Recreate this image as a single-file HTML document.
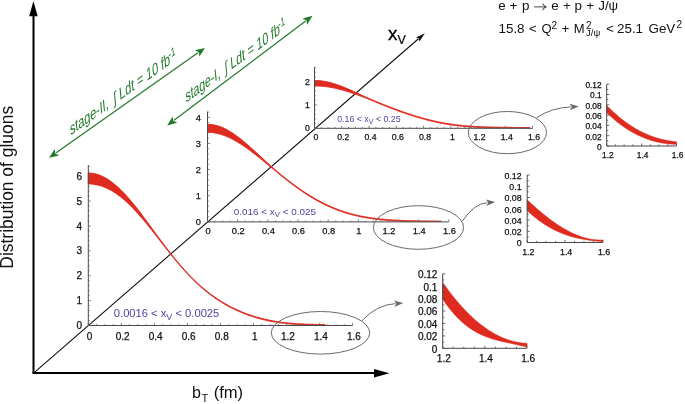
<!DOCTYPE html>
<html><head><meta charset="utf-8"><style>
html,body{margin:0;padding:0;background:#fff;}
svg{display:block;will-change:transform;}
text{font-family:"Liberation Sans", sans-serif;}
</style></head><body>
<svg width="685" height="404" viewBox="0 0 685 404" fill="#111">
<rect width="685" height="404" fill="#fff"/>
<line x1="33.5" y1="373" x2="33.5" y2="14" stroke="#000" stroke-width="2"/>
<polygon points="33.4,1 29.2,16.3 37.7,16.3" fill="#000"/>
<line x1="32.5" y1="373.1" x2="376" y2="373.1" stroke="#000" stroke-width="2"/>
<polygon points="389.5,373.3 374,369.1 374,377.5" fill="#000"/>
<line x1="33.6" y1="373.1" x2="418.48" y2="38.77" stroke="#111" stroke-width="1.1"/>
<polygon points="424.9,33.2 419.43,41.39 418.86,38.45 416.02,37.47" fill="#111"/>
<path d="M314.50,80.47 L315.41,80.48 L316.32,80.50 L317.23,80.53 L318.13,80.58 L319.04,80.65 L319.95,80.73 L320.86,80.82 L321.77,80.93 L322.68,81.05 L323.59,81.19 L324.50,81.34 L325.40,81.50 L326.31,81.68 L327.22,81.87 L328.13,82.07 L329.04,82.28 L329.95,82.50 L330.86,82.74 L331.76,82.99 L332.67,83.25 L333.58,83.52 L334.49,83.80 L335.40,84.09 L336.31,84.39 L337.22,84.70 L338.13,85.02 L339.03,85.35 L339.94,85.68 L340.85,86.02 L341.76,86.37 L342.67,86.73 L343.58,87.10 L344.49,87.47 L345.39,87.84 L346.30,88.22 L347.21,88.61 L348.12,89.00 L349.03,89.39 L349.94,89.79 L350.85,90.20 L351.76,90.60 L352.66,91.01 L353.57,91.42 L354.48,91.84 L355.39,92.25 L356.30,92.67 L357.21,93.09 L358.12,93.51 L359.02,93.93 L359.93,94.35 L360.84,94.77 L361.75,95.19 L362.66,95.61 L363.57,96.03 L364.48,96.45 L365.39,96.87 L366.29,97.29 L367.20,97.71 L368.11,98.09 L369.02,98.47 L369.93,98.86 L370.84,99.24 L371.75,99.62 L372.65,100.00 L373.56,100.38 L374.47,100.76 L375.38,101.14 L376.29,101.51 L377.20,101.89 L378.11,102.27 L379.02,102.64 L379.92,103.01 L380.83,103.38 L381.74,103.75 L382.65,104.12 L383.56,104.48 L384.47,104.85 L385.38,105.21 L386.28,105.57 L387.19,105.92 L388.10,106.28 L389.01,106.63 L389.92,106.99 L390.83,107.34 L391.74,107.68 L392.65,108.03 L393.55,108.37 L394.46,108.71 L395.37,109.05 L396.28,109.39 L397.19,109.72 L398.10,110.06 L399.01,110.39 L399.91,110.71 L400.82,111.04 L401.73,111.36 L402.64,111.68 L403.55,112.00 L404.46,112.31 L405.37,112.62 L406.28,112.93 L407.18,113.24 L408.09,113.54 L409.00,113.85 L409.91,114.14 L410.82,114.44 L411.73,114.73 L412.64,115.02 L413.54,115.31 L414.45,115.59 L415.36,115.88 L416.27,116.15 L417.18,116.43 L418.09,116.70 L419.00,116.97 L419.91,117.23 L420.81,117.50 L421.72,117.76 L422.63,118.01 L423.54,118.26 L424.45,118.51 L425.36,118.76 L426.27,119.00 L427.17,119.24 L428.08,119.47 L428.99,119.70 L429.90,119.93 L430.81,120.15 L431.72,120.37 L432.63,120.58 L433.54,120.79 L434.44,121.00 L435.35,121.20 L436.26,121.40 L437.17,121.60 L438.08,121.79 L438.99,121.98 L439.90,122.16 L440.80,122.34 L441.71,122.52 L442.62,122.69 L443.53,122.85 L444.44,123.02 L445.35,123.18 L446.26,123.33 L447.17,123.48 L448.07,123.63 L448.98,123.77 L449.89,123.91 L450.80,124.05 L451.71,124.18 L452.62,124.30 L453.53,124.43 L454.43,124.55 L455.34,124.66 L456.25,124.78 L457.16,124.89 L458.07,124.99 L458.98,125.09 L459.89,125.19 L460.80,125.29 L461.70,125.38 L462.61,125.47 L463.52,125.56 L464.43,125.64 L465.34,125.72 L466.25,125.80 L467.16,125.87 L468.06,125.94 L468.97,126.01 L469.88,126.08 L470.79,126.14 L471.70,126.20 L472.61,126.26 L473.52,126.31 L474.43,126.37 L475.33,126.42 L476.24,126.47 L477.15,126.52 L478.06,126.56 L478.97,126.61 L479.88,126.65 L480.79,126.69 L481.69,126.73 L482.60,126.76 L483.51,126.80 L484.42,126.83 L485.33,126.86 L486.24,126.89 L487.15,126.92 L488.06,126.95 L488.96,126.98 L489.87,127.00 L490.78,127.03 L491.69,127.05 L492.60,127.07 L493.51,127.10 L494.42,127.12 L495.32,127.14 L496.23,127.15 L497.14,127.17 L498.05,127.19 L498.96,127.21 L499.87,127.22 L500.78,127.24 L501.69,127.25 L502.59,127.27 L503.50,127.28 L504.41,127.29 L505.32,127.31 L506.23,127.32 L507.14,127.33 L508.05,127.35 L508.95,127.36 L509.86,127.37 L510.77,127.38 L511.68,127.40 L512.59,127.41 L513.50,127.42 L514.41,127.44 L515.32,127.45 L516.22,127.46 L517.13,127.48 L518.04,127.49 L518.95,127.51 L519.86,127.52 L520.77,127.54 L521.68,127.56 L522.58,127.57 L523.49,127.59 L524.40,127.61 L525.31,127.63 L526.22,127.65 L527.13,127.66 L528.04,127.68 L528.95,127.70 L529.85,127.72 L529.85,127.70 L528.95,127.70 L528.04,127.70 L527.13,127.70 L526.22,127.70 L525.31,127.70 L524.40,127.70 L523.49,127.70 L522.58,127.70 L521.68,127.70 L520.77,127.70 L519.86,127.70 L518.95,127.70 L518.04,127.70 L517.13,127.70 L516.22,127.70 L515.32,127.70 L514.41,127.70 L513.50,127.70 L512.59,127.70 L511.68,127.70 L510.77,127.70 L509.86,127.70 L508.95,127.70 L508.05,127.70 L507.14,127.70 L506.23,127.70 L505.32,127.70 L504.41,127.70 L503.50,127.70 L502.59,127.70 L501.69,127.70 L500.78,127.70 L499.87,127.70 L498.96,127.70 L498.05,127.70 L497.14,127.70 L496.23,127.70 L495.32,127.70 L494.42,127.70 L493.51,127.70 L492.60,127.70 L491.69,127.70 L490.78,127.70 L489.87,127.70 L488.96,127.70 L488.06,127.70 L487.15,127.70 L486.24,127.70 L485.33,127.70 L484.42,127.67 L483.51,127.64 L482.60,127.60 L481.69,127.57 L480.79,127.53 L479.88,127.49 L478.97,127.45 L478.06,127.40 L477.15,127.36 L476.24,127.31 L475.33,127.26 L474.43,127.21 L473.52,127.15 L472.61,127.10 L471.70,127.04 L470.79,126.98 L469.88,126.92 L468.97,126.85 L468.06,126.78 L467.16,126.71 L466.25,126.64 L465.34,126.56 L464.43,126.48 L463.52,126.40 L462.61,126.31 L461.70,126.22 L460.80,126.13 L459.89,126.03 L458.98,125.93 L458.07,125.83 L457.16,125.73 L456.25,125.62 L455.34,125.50 L454.43,125.39 L453.53,125.27 L452.62,125.14 L451.71,125.02 L450.80,124.89 L449.89,124.75 L448.98,124.61 L448.07,124.47 L447.17,124.32 L446.26,124.17 L445.35,124.02 L444.44,123.86 L443.53,123.69 L442.62,123.53 L441.71,123.36 L440.80,123.18 L439.90,123.00 L438.99,122.82 L438.08,122.63 L437.17,122.44 L436.26,122.24 L435.35,122.04 L434.44,121.84 L433.54,121.63 L432.63,121.42 L431.72,121.21 L430.81,120.99 L429.90,120.77 L428.99,120.54 L428.08,120.31 L427.17,120.08 L426.27,119.84 L425.36,119.60 L424.45,119.35 L423.54,119.10 L422.63,118.85 L421.72,118.60 L420.81,118.34 L419.91,118.07 L419.00,117.81 L418.09,117.54 L417.18,117.27 L416.27,116.99 L415.36,116.72 L414.45,116.43 L413.54,116.15 L412.64,115.86 L411.73,115.57 L410.82,115.28 L409.91,114.98 L409.00,114.69 L408.09,114.38 L407.18,114.08 L406.28,113.77 L405.37,113.46 L404.46,113.15 L403.55,112.84 L402.64,112.52 L401.73,112.20 L400.82,111.88 L399.91,111.55 L399.01,111.23 L398.10,110.90 L397.19,110.56 L396.28,110.23 L395.37,109.89 L394.46,109.55 L393.55,109.21 L392.65,108.87 L391.74,108.52 L390.83,108.18 L389.92,107.83 L389.01,107.47 L388.10,107.12 L387.19,106.76 L386.28,106.41 L385.38,106.05 L384.47,105.69 L383.56,105.32 L382.65,104.96 L381.74,104.59 L380.83,104.22 L379.92,103.85 L379.02,103.48 L378.11,103.11 L377.20,102.73 L376.29,102.35 L375.38,101.98 L374.47,101.60 L373.56,101.22 L372.65,100.84 L371.75,100.46 L370.84,100.08 L369.93,99.70 L369.02,99.31 L368.11,98.93 L367.20,98.55 L366.29,98.20 L365.39,97.85 L364.48,97.50 L363.57,97.16 L362.66,96.82 L361.75,96.48 L360.84,96.14 L359.93,95.80 L359.02,95.47 L358.12,95.14 L357.21,94.81 L356.30,94.49 L355.39,94.17 L354.48,93.85 L353.57,93.54 L352.66,93.23 L351.76,92.92 L350.85,92.62 L349.94,92.32 L349.03,92.03 L348.12,91.74 L347.21,91.46 L346.30,91.18 L345.39,90.91 L344.49,90.64 L343.58,90.38 L342.67,90.12 L341.76,89.87 L340.85,89.63 L339.94,89.39 L339.03,89.16 L338.13,88.94 L337.22,88.72 L336.31,88.51 L335.40,88.30 L334.49,88.11 L333.58,87.92 L332.67,87.74 L331.76,87.57 L330.86,87.40 L329.95,87.25 L329.04,87.10 L328.13,86.96 L327.22,86.83 L326.31,86.70 L325.40,86.59 L324.50,86.48 L323.59,86.39 L322.68,86.30 L321.77,86.22 L320.86,86.15 L319.95,86.09 L319.04,86.04 L318.13,86.00 L317.23,85.96 L316.32,85.94 L315.41,85.93 L314.50,85.92Z" fill="#df2a1f" stroke="#df2a1f" stroke-width="1.0" stroke-linejoin="round"/>
<path d="M314.50,66.89 V128.30 H532.58" fill="none" stroke="#484848" stroke-width="1.0"/>
<path d="M314.50,128.30h2.6M314.50,123.63h1.4M314.50,118.96h1.4M314.50,114.29h1.4M314.50,109.62h1.4M314.50,104.95h2.6M314.50,100.28h1.4M314.50,95.61h1.4M314.50,90.94h1.4M314.50,86.27h1.4M314.50,81.60h2.6M314.50,76.93h1.4M314.50,72.26h1.4M314.50,67.59h1.4M314.50,128.30v-2.6M321.31,128.30v-1.4M328.13,128.30v-1.4M334.94,128.30v-1.4M341.76,128.30v-2.6M348.57,128.30v-1.4M355.39,128.30v-1.4M362.20,128.30v-1.4M369.02,128.30v-2.6M375.84,128.30v-1.4M382.65,128.30v-1.4M389.47,128.30v-1.4M396.28,128.30v-2.6M403.10,128.30v-1.4M409.91,128.30v-1.4M416.73,128.30v-1.4M423.54,128.30v-2.6M430.36,128.30v-1.4M437.17,128.30v-1.4M443.99,128.30v-1.4M450.80,128.30v-2.6M457.62,128.30v-1.4M464.43,128.30v-1.4M471.25,128.30v-1.4M478.06,128.30v-2.6M484.88,128.30v-1.4M491.69,128.30v-1.4M498.50,128.30v-1.4M505.32,128.30v-2.6M512.13,128.30v-1.4M518.95,128.30v-1.4M525.76,128.30v-1.4M532.58,128.30v-2.6" stroke="#666" stroke-width="0.8" fill="none"/>
<g font-size="8.7" stroke="#111" stroke-width="0.25"><text x="309.90" y="131.43" text-anchor="end">0</text><text x="309.90" y="108.08" text-anchor="end">1</text><text x="309.90" y="84.73" text-anchor="end">2</text><text x="316.00" y="139.90" text-anchor="middle">0</text><text x="343.26" y="139.90" text-anchor="middle">0.2</text><text x="370.52" y="139.90" text-anchor="middle">0.4</text><text x="397.78" y="139.90" text-anchor="middle">0.6</text><text x="425.04" y="139.90" text-anchor="middle">0.8</text><text x="452.30" y="139.90" text-anchor="middle">1</text><text x="479.56" y="139.90" text-anchor="middle">1.2</text><text x="506.82" y="139.90" text-anchor="middle">1.4</text><text x="534.08" y="139.90" text-anchor="middle">1.6</text></g>
<path d="M207.50,124.26 L208.51,124.28 L209.51,124.32 L210.52,124.40 L211.52,124.50 L212.53,124.64 L213.53,124.80 L214.54,125.00 L215.54,125.22 L216.55,125.48 L217.55,125.76 L218.56,126.07 L219.56,126.41 L220.57,126.77 L221.57,127.17 L222.58,127.58 L223.59,128.03 L224.59,128.50 L225.60,129.00 L226.60,129.52 L227.61,130.06 L228.61,130.63 L229.62,131.22 L230.62,131.83 L231.63,132.47 L232.63,133.12 L233.64,133.79 L234.64,134.48 L235.65,135.19 L236.65,135.92 L237.66,136.67 L238.67,137.43 L239.67,138.20 L240.68,138.99 L241.68,139.80 L242.69,140.61 L243.69,141.44 L244.70,142.28 L245.70,143.14 L246.71,144.00 L247.71,144.87 L248.72,145.75 L249.72,146.63 L250.73,147.53 L251.73,148.43 L252.74,149.33 L253.75,150.24 L254.75,151.16 L255.76,152.07 L256.76,153.00 L257.77,153.92 L258.77,154.85 L259.78,155.77 L260.78,156.70 L261.79,157.63 L262.79,158.56 L263.80,159.48 L264.80,160.41 L265.81,161.34 L266.81,162.26 L267.82,163.18 L268.83,164.09 L269.83,165.01 L270.84,165.92 L271.84,166.82 L272.85,167.72 L273.85,168.62 L274.86,169.51 L275.86,170.37 L276.87,171.22 L277.87,172.06 L278.88,172.89 L279.88,173.73 L280.89,174.55 L281.89,175.38 L282.90,176.19 L283.91,177.00 L284.91,177.81 L285.92,178.61 L286.92,179.40 L287.93,180.19 L288.93,180.97 L289.94,181.74 L290.94,182.51 L291.95,183.27 L292.95,184.02 L293.96,184.77 L294.96,185.51 L295.97,186.24 L296.97,186.96 L297.98,187.68 L298.99,188.39 L299.99,189.09 L301.00,189.78 L302.00,190.47 L303.01,191.14 L304.01,191.81 L305.02,192.47 L306.02,193.13 L307.03,193.77 L308.03,194.41 L309.04,195.04 L310.04,195.66 L311.05,196.27 L312.05,196.87 L313.06,197.46 L314.07,198.05 L315.07,198.63 L316.08,199.20 L317.08,199.76 L318.09,200.31 L319.09,200.85 L320.10,201.39 L321.10,201.91 L322.11,202.43 L323.11,202.94 L324.12,203.44 L325.12,203.93 L326.13,204.42 L327.13,204.89 L328.14,205.36 L329.15,205.81 L330.15,206.26 L331.16,206.70 L332.16,207.13 L333.17,207.56 L334.17,207.97 L335.18,208.38 L336.18,208.77 L337.19,209.16 L338.19,209.54 L339.20,209.91 L340.20,210.28 L341.21,210.63 L342.21,210.98 L343.22,211.32 L344.23,211.65 L345.23,211.97 L346.24,212.29 L347.24,212.59 L348.25,212.89 L349.25,213.19 L350.26,213.47 L351.26,213.74 L352.27,214.01 L353.27,214.27 L354.28,214.53 L355.28,214.78 L356.29,215.01 L357.29,215.25 L358.30,215.47 L359.31,215.69 L360.31,215.90 L361.32,216.11 L362.32,216.31 L363.33,216.50 L364.33,216.69 L365.34,216.87 L366.34,217.04 L367.35,217.21 L368.35,217.38 L369.36,217.53 L370.36,217.69 L371.37,217.83 L372.37,217.97 L373.38,218.11 L374.39,218.24 L375.39,218.37 L376.40,218.49 L377.40,218.61 L378.41,218.72 L379.41,218.83 L380.42,218.94 L381.42,219.04 L382.43,219.14 L383.43,219.23 L384.44,219.32 L385.44,219.41 L386.45,219.49 L387.45,219.57 L388.46,219.65 L389.47,219.72 L390.47,219.79 L391.48,219.86 L392.48,219.93 L393.49,219.99 L394.49,220.05 L395.50,220.11 L396.50,220.16 L397.51,220.21 L398.51,220.27 L399.52,220.31 L400.52,220.36 L401.53,220.41 L402.53,220.45 L403.54,220.49 L404.55,220.53 L405.55,220.57 L406.56,220.61 L407.56,220.64 L408.57,220.68 L409.57,220.71 L410.58,220.74 L411.58,220.77 L412.59,220.80 L413.59,220.83 L414.60,220.86 L415.60,220.88 L416.61,220.91 L417.61,220.93 L418.62,220.96 L419.63,220.98 L420.63,221.00 L421.64,221.02 L422.64,221.04 L423.65,221.06 L424.65,221.08 L425.66,221.10 L426.66,221.12 L427.67,221.14 L428.67,221.15 L429.68,221.17 L430.68,221.19 L431.69,221.20 L432.69,221.22 L433.70,221.23 L434.71,221.25 L435.71,221.26 L436.72,221.27 L437.72,221.29 L438.73,221.30 L439.73,221.31 L440.74,221.32 L440.74,221.30 L439.73,221.30 L438.73,221.30 L437.72,221.30 L436.72,221.30 L435.71,221.30 L434.71,221.30 L433.70,221.30 L432.69,221.30 L431.69,221.30 L430.68,221.30 L429.68,221.30 L428.67,221.30 L427.67,221.30 L426.66,221.30 L425.66,221.30 L424.65,221.30 L423.65,221.30 L422.64,221.30 L421.64,221.30 L420.63,221.30 L419.63,221.30 L418.62,221.30 L417.61,221.30 L416.61,221.30 L415.60,221.30 L414.60,221.30 L413.59,221.30 L412.59,221.30 L411.58,221.30 L410.58,221.30 L409.57,221.30 L408.57,221.30 L407.56,221.30 L406.56,221.30 L405.55,221.30 L404.55,221.30 L403.54,221.30 L402.53,221.29 L401.53,221.25 L400.52,221.20 L399.52,221.15 L398.51,221.11 L397.51,221.05 L396.50,221.00 L395.50,220.95 L394.49,220.89 L393.49,220.83 L392.48,220.77 L391.48,220.70 L390.47,220.63 L389.47,220.56 L388.46,220.49 L387.45,220.41 L386.45,220.33 L385.44,220.25 L384.44,220.16 L383.43,220.07 L382.43,219.98 L381.42,219.88 L380.42,219.78 L379.41,219.67 L378.41,219.56 L377.40,219.45 L376.40,219.33 L375.39,219.21 L374.39,219.08 L373.38,218.95 L372.37,218.81 L371.37,218.67 L370.36,218.53 L369.36,218.37 L368.35,218.22 L367.35,218.05 L366.34,217.88 L365.34,217.71 L364.33,217.53 L363.33,217.34 L362.32,217.15 L361.32,216.95 L360.31,216.74 L359.31,216.53 L358.30,216.31 L357.29,216.09 L356.29,215.85 L355.28,215.62 L354.28,215.37 L353.27,215.11 L352.27,214.85 L351.26,214.58 L350.26,214.31 L349.25,214.03 L348.25,213.73 L347.24,213.43 L346.24,213.13 L345.23,212.81 L344.23,212.49 L343.22,212.16 L342.21,211.82 L341.21,211.47 L340.20,211.12 L339.20,210.75 L338.19,210.38 L337.19,210.00 L336.18,209.61 L335.18,209.22 L334.17,208.81 L333.17,208.40 L332.16,207.97 L331.16,207.54 L330.15,207.10 L329.15,206.65 L328.14,206.20 L327.13,205.73 L326.13,205.26 L325.12,204.77 L324.12,204.28 L323.11,203.78 L322.11,203.27 L321.10,202.75 L320.10,202.23 L319.09,201.69 L318.09,201.15 L317.08,200.60 L316.08,200.04 L315.07,199.47 L314.07,198.89 L313.06,198.30 L312.05,197.71 L311.05,197.11 L310.04,196.50 L309.04,195.88 L308.03,195.25 L307.03,194.61 L306.02,193.97 L305.02,193.31 L304.01,192.65 L303.01,191.98 L302.00,191.31 L301.00,190.62 L299.99,189.93 L298.99,189.23 L297.98,188.52 L296.97,187.80 L295.97,187.08 L294.96,186.35 L293.96,185.61 L292.95,184.86 L291.95,184.11 L290.94,183.35 L289.94,182.58 L288.93,181.81 L287.93,181.03 L286.92,180.24 L285.92,179.45 L284.91,178.65 L283.91,177.84 L282.90,177.03 L281.89,176.22 L280.89,175.39 L279.88,174.57 L278.88,173.73 L277.87,172.90 L276.87,172.06 L275.86,171.21 L274.86,170.37 L273.85,169.55 L272.85,168.74 L271.84,167.92 L270.84,167.10 L269.83,166.28 L268.83,165.46 L267.82,164.64 L266.81,163.81 L265.81,163.00 L264.80,162.18 L263.80,161.36 L262.79,160.54 L261.79,159.73 L260.78,158.92 L259.78,158.12 L258.77,157.31 L257.77,156.51 L256.76,155.72 L255.76,154.93 L254.75,154.15 L253.75,153.37 L252.74,152.60 L251.73,151.84 L250.73,151.08 L249.72,150.33 L248.72,149.59 L247.71,148.86 L246.71,148.14 L245.70,147.43 L244.70,146.73 L243.69,146.04 L242.69,145.36 L241.68,144.69 L240.68,144.04 L239.67,143.40 L238.67,142.77 L237.66,142.16 L236.65,141.56 L235.65,140.97 L234.64,140.41 L233.64,139.85 L232.63,139.32 L231.63,138.80 L230.62,138.30 L229.62,137.82 L228.61,137.35 L227.61,136.90 L226.60,136.48 L225.60,136.07 L224.59,135.68 L223.59,135.31 L222.58,134.96 L221.57,134.64 L220.57,134.33 L219.56,134.05 L218.56,133.79 L217.55,133.54 L216.55,133.33 L215.54,133.13 L214.54,132.96 L213.53,132.81 L212.53,132.68 L211.52,132.57 L210.52,132.49 L209.51,132.44 L208.51,132.40 L207.50,132.39Z" fill="#df2a1f" stroke="#df2a1f" stroke-width="1.0" stroke-linejoin="round"/>
<path d="M207.50,111.55 V221.90 H448.78" fill="none" stroke="#484848" stroke-width="1.0"/>
<path d="M207.50,221.90h2.6M207.50,216.67h1.4M207.50,211.44h1.4M207.50,206.21h1.4M207.50,200.98h1.4M207.50,195.75h2.6M207.50,190.52h1.4M207.50,185.29h1.4M207.50,180.06h1.4M207.50,174.83h1.4M207.50,169.60h2.6M207.50,164.37h1.4M207.50,159.14h1.4M207.50,153.91h1.4M207.50,148.68h1.4M207.50,143.45h2.6M207.50,138.22h1.4M207.50,132.99h1.4M207.50,127.76h1.4M207.50,122.53h1.4M207.50,117.30h2.6M207.50,112.07h1.4M207.50,221.90v-2.6M215.04,221.90v-1.4M222.58,221.90v-1.4M230.12,221.90v-1.4M237.66,221.90v-2.6M245.20,221.90v-1.4M252.74,221.90v-1.4M260.28,221.90v-1.4M267.82,221.90v-2.6M275.36,221.90v-1.4M282.90,221.90v-1.4M290.44,221.90v-1.4M297.98,221.90v-2.6M305.52,221.90v-1.4M313.06,221.90v-1.4M320.60,221.90v-1.4M328.14,221.90v-2.6M335.68,221.90v-1.4M343.22,221.90v-1.4M350.76,221.90v-1.4M358.30,221.90v-2.6M365.84,221.90v-1.4M373.38,221.90v-1.4M380.92,221.90v-1.4M388.46,221.90v-2.6M396.00,221.90v-1.4M403.54,221.90v-1.4M411.08,221.90v-1.4M418.62,221.90v-2.6M426.16,221.90v-1.4M433.70,221.90v-1.4M441.24,221.90v-1.4M448.78,221.90v-2.6" stroke="#666" stroke-width="0.8" fill="none"/>
<g font-size="9.3" stroke="#111" stroke-width="0.25"><text x="200.90" y="225.25" text-anchor="end">0</text><text x="200.90" y="199.10" text-anchor="end">1</text><text x="200.90" y="172.95" text-anchor="end">2</text><text x="200.90" y="146.80" text-anchor="end">3</text><text x="200.90" y="120.65" text-anchor="end">4</text><text x="208.10" y="234.30" text-anchor="middle">0</text><text x="238.26" y="234.30" text-anchor="middle">0.2</text><text x="268.42" y="234.30" text-anchor="middle">0.4</text><text x="298.58" y="234.30" text-anchor="middle">0.6</text><text x="328.74" y="234.30" text-anchor="middle">0.8</text><text x="358.90" y="234.30" text-anchor="middle">1</text><text x="389.06" y="234.30" text-anchor="middle">1.2</text><text x="419.22" y="234.30" text-anchor="middle">1.4</text><text x="449.38" y="234.30" text-anchor="middle">1.6</text></g>
<path d="M88.30,173.02 L89.40,173.04 L90.50,173.10 L91.60,173.20 L92.71,173.35 L93.81,173.53 L94.91,173.76 L96.01,174.02 L97.11,174.33 L98.21,174.67 L99.31,175.06 L100.41,175.48 L101.52,175.95 L102.62,176.45 L103.72,176.99 L104.82,177.57 L105.92,178.18 L107.02,178.84 L108.12,179.53 L109.23,180.25 L110.33,181.02 L111.43,181.81 L112.53,182.65 L113.63,183.51 L114.73,184.41 L115.83,185.34 L116.93,186.30 L118.04,187.29 L119.14,188.32 L120.24,189.37 L121.34,190.45 L122.44,191.56 L123.54,192.70 L124.64,193.86 L125.75,195.05 L126.85,196.26 L127.95,197.49 L129.05,198.75 L130.15,200.03 L131.25,201.33 L132.35,202.65 L133.45,203.99 L134.56,205.34 L135.66,206.72 L136.76,208.11 L137.86,209.51 L138.96,210.93 L140.06,212.36 L141.16,213.80 L142.27,215.25 L143.37,216.71 L144.47,218.18 L145.57,219.66 L146.67,221.14 L147.77,222.63 L148.87,224.13 L149.97,225.63 L151.08,227.13 L152.18,228.64 L153.28,230.14 L154.38,231.65 L155.48,233.15 L156.58,234.65 L157.68,236.15 L158.79,237.65 L159.89,239.14 L160.99,240.63 L162.09,242.11 L163.19,243.59 L164.29,245.05 L165.39,246.51 L166.49,247.97 L167.60,249.41 L168.70,250.84 L169.80,252.26 L170.90,253.67 L172.00,255.07 L173.10,256.44 L174.20,257.80 L175.31,259.14 L176.41,260.47 L177.51,261.79 L178.61,263.10 L179.71,264.39 L180.81,265.67 L181.91,266.93 L183.01,268.18 L184.12,269.42 L185.22,270.63 L186.32,271.84 L187.42,273.02 L188.52,274.19 L189.62,275.34 L190.72,276.48 L191.83,277.60 L192.93,278.70 L194.03,279.78 L195.13,280.85 L196.23,281.90 L197.33,282.93 L198.43,283.95 L199.53,284.95 L200.64,285.93 L201.74,286.90 L202.84,287.85 L203.94,288.78 L205.04,289.69 L206.14,290.59 L207.24,291.47 L208.35,292.34 L209.45,293.19 L210.55,294.02 L211.65,294.84 L212.75,295.64 L213.85,296.42 L214.95,297.20 L216.05,297.95 L217.16,298.69 L218.26,299.42 L219.36,300.13 L220.46,300.83 L221.56,301.51 L222.66,302.18 L223.76,302.84 L224.87,303.48 L225.97,304.11 L227.07,304.73 L228.17,305.33 L229.27,305.92 L230.37,306.50 L231.47,307.07 L232.57,307.63 L233.68,308.17 L234.78,308.70 L235.88,309.22 L236.98,309.73 L238.08,310.22 L239.18,310.71 L240.28,311.18 L241.39,311.65 L242.49,312.10 L243.59,312.54 L244.69,312.98 L245.79,313.40 L246.89,313.81 L247.99,314.21 L249.09,314.60 L250.20,314.98 L251.30,315.36 L252.40,315.72 L253.50,316.07 L254.60,316.42 L255.70,316.75 L256.80,317.08 L257.91,317.39 L259.01,317.70 L260.11,318.00 L261.21,318.28 L262.31,318.56 L263.41,318.84 L264.51,319.10 L265.61,319.35 L266.72,319.60 L267.82,319.84 L268.92,320.07 L270.02,320.29 L271.12,320.50 L272.22,320.71 L273.32,320.91 L274.43,321.10 L275.53,321.28 L276.63,321.46 L277.73,321.63 L278.83,321.79 L279.93,321.95 L281.03,322.10 L282.13,322.24 L283.24,322.38 L284.34,322.51 L285.44,322.63 L286.54,322.75 L287.64,322.87 L288.74,322.98 L289.84,323.08 L290.95,323.18 L292.05,323.27 L293.15,323.36 L294.25,323.44 L295.35,323.52 L296.45,323.60 L297.55,323.67 L298.65,323.74 L299.76,323.81 L300.86,323.87 L301.96,323.92 L303.06,323.98 L304.16,324.03 L305.26,324.08 L306.36,324.13 L307.47,324.17 L308.57,324.21 L309.67,324.25 L310.77,324.29 L311.87,324.32 L312.97,324.35 L314.07,324.39 L315.17,324.41 L316.28,324.44 L317.38,324.47 L318.48,324.49 L319.58,324.52 L320.68,324.54 L321.78,324.56 L322.88,324.58 L323.99,324.60 L325.09,324.62 L325.09,324.90 L323.99,324.90 L322.88,324.90 L321.78,324.90 L320.68,324.90 L319.58,324.90 L318.48,324.90 L317.38,324.90 L316.28,324.90 L315.17,324.90 L314.07,324.90 L312.97,324.90 L311.87,324.90 L310.77,324.90 L309.67,324.90 L308.57,324.90 L307.47,324.90 L306.36,324.90 L305.26,324.90 L304.16,324.87 L303.06,324.82 L301.96,324.76 L300.86,324.71 L299.76,324.65 L298.65,324.58 L297.55,324.51 L296.45,324.44 L295.35,324.36 L294.25,324.28 L293.15,324.20 L292.05,324.11 L290.95,324.02 L289.84,323.92 L288.74,323.82 L287.64,323.71 L286.54,323.59 L285.44,323.47 L284.34,323.35 L283.24,323.22 L282.13,323.08 L281.03,322.94 L279.93,322.79 L278.83,322.63 L277.73,322.47 L276.63,322.30 L275.53,322.12 L274.43,321.94 L273.32,321.75 L272.22,321.55 L271.12,321.34 L270.02,321.13 L268.92,320.91 L267.82,320.68 L266.72,320.44 L265.61,320.19 L264.51,319.94 L263.41,319.68 L262.31,319.40 L261.21,319.12 L260.11,318.84 L259.01,318.54 L257.91,318.23 L256.80,317.92 L255.70,317.59 L254.60,317.26 L253.50,316.91 L252.40,316.56 L251.30,316.20 L250.20,315.82 L249.09,315.44 L247.99,315.05 L246.89,314.65 L245.79,314.24 L244.69,313.82 L243.59,313.38 L242.49,312.94 L241.39,312.49 L240.28,312.02 L239.18,311.55 L238.08,311.06 L236.98,310.57 L235.88,310.06 L234.78,309.54 L233.68,309.01 L232.57,308.47 L231.47,307.91 L230.37,307.34 L229.27,306.76 L228.17,306.17 L227.07,305.57 L225.97,304.95 L224.87,304.32 L223.76,303.68 L222.66,303.02 L221.56,302.35 L220.46,301.67 L219.36,300.97 L218.26,300.26 L217.16,299.53 L216.05,298.79 L214.95,298.04 L213.85,297.26 L212.75,296.48 L211.65,295.68 L210.55,294.86 L209.45,294.03 L208.35,293.18 L207.24,292.31 L206.14,291.43 L205.04,290.53 L203.94,289.62 L202.84,288.69 L201.74,287.74 L200.64,286.77 L199.53,285.79 L198.43,284.79 L197.33,283.77 L196.23,282.74 L195.13,281.69 L194.03,280.62 L192.93,279.54 L191.83,278.44 L190.72,277.32 L189.62,276.18 L188.52,275.03 L187.42,273.86 L186.32,272.68 L185.22,271.47 L184.12,270.26 L183.01,269.02 L181.91,267.77 L180.81,266.51 L179.71,265.23 L178.61,263.94 L177.51,262.63 L176.41,261.31 L175.31,259.98 L174.20,258.64 L173.10,257.28 L172.00,255.91 L170.90,254.54 L169.80,253.18 L168.70,251.80 L167.60,250.41 L166.49,249.02 L165.39,247.62 L164.29,246.22 L163.19,244.82 L162.09,243.41 L160.99,241.99 L159.89,240.58 L158.79,239.17 L157.68,237.75 L156.58,236.34 L155.48,234.93 L154.38,233.53 L153.28,232.13 L152.18,230.73 L151.08,229.34 L149.97,227.96 L148.87,226.58 L147.77,225.22 L146.67,223.86 L145.57,222.52 L144.47,221.19 L143.37,219.87 L142.27,218.57 L141.16,217.28 L140.06,216.00 L138.96,214.74 L137.86,213.50 L136.76,212.28 L135.66,211.08 L134.56,209.89 L133.45,208.73 L132.35,207.59 L131.25,206.47 L130.15,205.37 L129.05,204.29 L127.95,203.24 L126.85,202.21 L125.75,201.21 L124.64,200.23 L123.54,199.28 L122.44,198.35 L121.34,197.45 L120.24,196.58 L119.14,195.74 L118.04,194.92 L116.93,194.13 L115.83,193.37 L114.73,192.63 L113.63,191.93 L112.53,191.25 L111.43,190.60 L110.33,189.99 L109.23,189.40 L108.12,188.84 L107.02,188.31 L105.92,187.81 L104.82,187.34 L103.72,186.90 L102.62,186.49 L101.52,186.11 L100.41,185.76 L99.31,185.44 L98.21,185.16 L97.11,184.90 L96.01,184.67 L94.91,184.47 L93.81,184.30 L92.71,184.17 L91.60,184.06 L90.50,183.99 L89.40,183.94 L88.30,183.92Z" fill="#df2a1f" stroke="#df2a1f" stroke-width="1.0" stroke-linejoin="round"/>
<path d="M88.30,165.14 V325.50 H352.62" fill="none" stroke="#484848" stroke-width="1.0"/>
<path d="M88.30,325.50h2.6M88.30,320.52h1.4M88.30,315.54h1.4M88.30,310.56h1.4M88.30,305.58h1.4M88.30,300.60h2.6M88.30,295.62h1.4M88.30,290.64h1.4M88.30,285.66h1.4M88.30,280.68h1.4M88.30,275.70h2.6M88.30,270.72h1.4M88.30,265.74h1.4M88.30,260.76h1.4M88.30,255.78h1.4M88.30,250.80h2.6M88.30,245.82h1.4M88.30,240.84h1.4M88.30,235.86h1.4M88.30,230.88h1.4M88.30,225.90h2.6M88.30,220.92h1.4M88.30,215.94h1.4M88.30,210.96h1.4M88.30,205.98h1.4M88.30,201.00h2.6M88.30,196.02h1.4M88.30,191.04h1.4M88.30,186.06h1.4M88.30,181.08h1.4M88.30,176.10h2.6M88.30,171.12h1.4M88.30,166.14h1.4M88.30,325.50v-2.6M96.56,325.50v-1.4M104.82,325.50v-1.4M113.08,325.50v-1.4M121.34,325.50v-2.6M129.60,325.50v-1.4M137.86,325.50v-1.4M146.12,325.50v-1.4M154.38,325.50v-2.6M162.64,325.50v-1.4M170.90,325.50v-1.4M179.16,325.50v-1.4M187.42,325.50v-2.6M195.68,325.50v-1.4M203.94,325.50v-1.4M212.20,325.50v-1.4M220.46,325.50v-2.6M228.72,325.50v-1.4M236.98,325.50v-1.4M245.24,325.50v-1.4M253.50,325.50v-2.6M261.76,325.50v-1.4M270.02,325.50v-1.4M278.28,325.50v-1.4M286.54,325.50v-2.6M294.80,325.50v-1.4M303.06,325.50v-1.4M311.32,325.50v-1.4M319.58,325.50v-2.6M327.84,325.50v-1.4M336.10,325.50v-1.4M344.36,325.50v-1.4M352.62,325.50v-2.6" stroke="#666" stroke-width="0.8" fill="none"/>
<g font-size="10" stroke="#111" stroke-width="0.25"><text x="82.00" y="329.10" text-anchor="end">0</text><text x="82.00" y="304.20" text-anchor="end">1</text><text x="82.00" y="279.30" text-anchor="end">2</text><text x="82.00" y="254.40" text-anchor="end">3</text><text x="82.00" y="229.50" text-anchor="end">4</text><text x="82.00" y="204.60" text-anchor="end">5</text><text x="82.00" y="179.70" text-anchor="end">6</text><text x="89.60" y="339.60" text-anchor="middle">0</text><text x="122.64" y="339.60" text-anchor="middle">0.2</text><text x="155.68" y="339.60" text-anchor="middle">0.4</text><text x="188.72" y="339.60" text-anchor="middle">0.6</text><text x="221.76" y="339.60" text-anchor="middle">0.8</text><text x="254.80" y="339.60" text-anchor="middle">1</text><text x="287.84" y="339.60" text-anchor="middle">1.2</text><text x="320.88" y="339.60" text-anchor="middle">1.4</text><text x="353.92" y="339.60" text-anchor="middle">1.6</text></g>
<text x="113.8" y="317.0" font-size="11.2" fill="#5142a2">0.0016 &lt; x<tspan font-size="8.96" dy="2.80">V</tspan><tspan dy="-2.80"> &lt; 0.0025</tspan></text>
<text x="233.8" y="214.7" font-size="9.9" fill="#5142a2">0.016 &lt; x<tspan font-size="7.92" dy="2.48">V</tspan><tspan dy="-2.48"> &lt; 0.025</tspan></text>
<text x="337.2" y="121.6" font-size="8.8" fill="#5142a2">0.16 &lt; x<tspan font-size="7.04" dy="2.20">V</tspan><tspan dy="-2.20"> &lt; 0.25</tspan></text>
<ellipse cx="320.5" cy="332.8" rx="49.2" ry="21.3" fill="none" stroke="#6a6a6a" stroke-width="1"/>
<path d="M362,320.7 Q376.42,304.86 395.22,303.62" fill="none" stroke="#6a6a6a" stroke-width="1"/>
<polygon points="403.2,303.1 394.43,306.88 396.22,303.56 394.01,300.50" fill="#6a6a6a"/>
<ellipse cx="418.5" cy="227.5" rx="45.1" ry="21.8" fill="none" stroke="#6a6a6a" stroke-width="1"/>
<path d="M462.5,220.9 Q473.94,203.80 487.23,202.61" fill="none" stroke="#6a6a6a" stroke-width="1"/>
<polygon points="495.2,201.9 486.52,205.89 488.23,202.52 485.95,199.51" fill="#6a6a6a"/>
<ellipse cx="507.4" cy="132.6" rx="39.1" ry="21.1" fill="none" stroke="#6a6a6a" stroke-width="1"/>
<path d="M536.6,117.7 Q551.37,107.71 570.81,106.92" fill="none" stroke="#6a6a6a" stroke-width="1"/>
<polygon points="578.8,106.6 569.94,110.16 571.81,106.88 569.68,103.77" fill="#6a6a6a"/>
<path d="M442.70,282.41 L443.40,283.41 L444.11,284.41 L444.81,285.40 L445.51,286.38 L446.21,287.35 L446.92,288.31 L447.62,289.26 L448.32,290.21 L449.02,291.14 L449.73,292.07 L450.43,292.99 L451.13,293.90 L451.83,294.80 L452.54,295.69 L453.24,296.58 L453.94,297.45 L454.65,298.32 L455.35,299.18 L456.05,300.03 L456.75,300.87 L457.46,301.70 L458.16,302.52 L458.86,303.34 L459.56,304.15 L460.27,304.95 L460.97,305.74 L461.67,306.52 L462.37,307.29 L463.08,308.05 L463.78,308.81 L464.48,309.56 L465.19,310.30 L465.89,311.03 L466.59,311.75 L467.29,312.46 L468.00,313.17 L468.70,313.87 L469.40,314.56 L470.10,315.24 L470.81,315.91 L471.51,316.57 L472.21,317.23 L472.91,317.87 L473.62,318.51 L474.32,319.14 L475.02,319.76 L475.73,320.38 L476.43,320.98 L477.13,321.58 L477.83,322.17 L478.54,322.75 L479.24,323.32 L479.94,323.88 L480.64,324.44 L481.35,324.99 L482.05,325.52 L482.75,326.06 L483.45,326.58 L484.16,327.09 L484.86,327.60 L485.56,328.10 L486.27,328.59 L486.97,329.07 L487.67,329.54 L488.37,330.01 L489.08,330.46 L489.78,330.91 L490.48,331.35 L491.18,331.78 L491.89,332.21 L492.59,332.62 L493.29,333.03 L493.99,333.43 L494.70,333.83 L495.40,334.21 L496.10,334.58 L496.81,334.95 L497.51,335.31 L498.21,335.66 L498.91,336.01 L499.62,336.34 L500.32,336.67 L501.02,336.99 L501.72,337.30 L502.43,337.61 L503.13,337.90 L503.83,338.19 L504.53,338.47 L505.24,338.74 L505.94,339.00 L506.64,339.26 L507.35,339.51 L508.05,339.75 L508.75,339.98 L509.45,340.20 L510.16,340.42 L510.86,340.63 L511.56,340.83 L512.26,341.02 L512.97,341.21 L513.67,341.38 L514.37,341.55 L515.07,341.71 L515.78,341.87 L516.48,342.01 L517.18,342.15 L517.89,342.28 L518.59,342.40 L519.29,342.52 L519.99,342.62 L520.70,342.72 L521.40,342.81 L522.10,342.90 L522.80,342.97 L523.51,343.04 L524.21,343.10 L524.91,343.15 L525.61,343.20 L526.32,343.24 L527.02,343.27 L527.02,347.17 L526.32,346.97 L525.61,346.78 L524.91,346.60 L524.21,346.41 L523.51,346.23 L522.80,346.06 L522.10,345.88 L521.40,345.71 L520.70,345.54 L519.99,345.38 L519.29,345.22 L518.59,345.06 L517.89,344.90 L517.18,344.74 L516.48,344.59 L515.78,344.44 L515.07,344.29 L514.37,344.14 L513.67,343.99 L512.97,343.84 L512.26,343.69 L511.56,343.54 L510.86,343.40 L510.16,343.25 L509.45,343.10 L508.75,342.95 L508.05,342.80 L507.35,342.65 L506.64,342.50 L505.94,342.35 L505.24,342.20 L504.53,342.04 L503.83,341.89 L503.13,341.73 L502.43,341.57 L501.72,341.40 L501.02,341.24 L500.32,341.07 L499.62,340.90 L498.91,340.72 L498.21,340.54 L497.51,340.36 L496.81,340.18 L496.10,339.99 L495.40,339.79 L494.70,339.59 L493.99,339.39 L493.29,339.18 L492.59,338.97 L491.89,338.75 L491.18,338.53 L490.48,338.30 L489.78,338.07 L489.08,337.83 L488.37,337.58 L487.67,337.33 L486.97,337.07 L486.27,336.80 L485.56,336.53 L484.86,336.25 L484.16,335.96 L483.45,335.67 L482.75,335.36 L482.05,335.05 L481.35,334.74 L480.64,334.41 L479.94,334.07 L479.24,333.73 L478.54,333.38 L477.83,333.01 L477.13,332.64 L476.43,332.26 L475.73,331.87 L475.02,331.47 L474.32,331.06 L473.62,330.64 L472.91,330.21 L472.21,329.77 L471.51,329.32 L470.81,328.85 L470.10,328.38 L469.40,327.89 L468.70,327.39 L468.00,326.88 L467.29,326.36 L466.59,325.83 L465.89,325.28 L465.19,324.72 L464.48,324.15 L463.78,323.57 L463.08,322.97 L462.37,322.36 L461.67,321.73 L460.97,321.10 L460.27,320.44 L459.56,319.78 L458.86,319.10 L458.16,318.40 L457.46,317.69 L456.75,316.96 L456.05,316.22 L455.35,315.47 L454.65,314.70 L453.94,313.91 L453.24,313.11 L452.54,312.29 L451.83,311.45 L451.13,310.60 L450.43,309.73 L449.73,308.84 L449.02,307.94 L448.32,307.02 L447.62,306.08 L446.92,305.13 L446.21,304.16 L445.51,303.16 L444.81,302.15 L444.11,301.13 L443.40,300.08 L442.70,299.01Z" fill="#df2a1f" stroke="#df2a1f" stroke-width="0.5" stroke-linejoin="round"/>
<path d="M442.70,273.78 V348.30 H527.02" fill="none" stroke="#484848" stroke-width="1"/>
<path d="M442.70,348.30h2.6M442.70,342.09h1.6M442.70,335.88h2.6M442.70,329.67h1.6M442.70,323.46h2.6M442.70,317.25h1.6M442.70,311.04h2.6M442.70,304.83h1.6M442.70,298.62h2.6M442.70,292.41h1.6M442.70,286.20h2.6M442.70,279.99h1.6M442.70,273.78h2.6M442.70,348.30v-2.6M453.24,348.30v-1.6M463.78,348.30v-1.6M474.32,348.30v-1.6M484.86,348.30v-2.6M495.40,348.30v-1.6M505.94,348.30v-1.6M516.48,348.30v-1.6M527.02,348.30v-2.6" stroke="#484848" stroke-width="0.8" fill="none"/>
<text x="437.40" y="352.70" text-anchor="end" font-size="10" stroke="#111" stroke-width="0.25">0</text>
<text x="437.40" y="340.28" text-anchor="end" font-size="10" stroke="#111" stroke-width="0.25">0.02</text>
<text x="437.40" y="327.86" text-anchor="end" font-size="10" stroke="#111" stroke-width="0.25">0.04</text>
<text x="437.40" y="315.44" text-anchor="end" font-size="10" stroke="#111" stroke-width="0.25">0.06</text>
<text x="437.40" y="303.02" text-anchor="end" font-size="10" stroke="#111" stroke-width="0.25">0.08</text>
<text x="437.40" y="290.60" text-anchor="end" font-size="10" stroke="#111" stroke-width="0.25">0.1</text>
<text x="437.40" y="278.18" text-anchor="end" font-size="10" stroke="#111" stroke-width="0.25">0.12</text>
<text x="443.80" y="361.50" text-anchor="middle" font-size="10" stroke="#111" stroke-width="0.25">1.2</text>
<text x="485.96" y="361.50" text-anchor="middle" font-size="10" stroke="#111" stroke-width="0.25">1.4</text>
<text x="528.12" y="361.50" text-anchor="middle" font-size="10" stroke="#111" stroke-width="0.25">1.6</text>
<path d="M527.20,199.77 L527.83,200.37 L528.46,200.96 L529.09,201.55 L529.72,202.14 L530.36,202.72 L530.99,203.30 L531.62,203.88 L532.25,204.46 L532.88,205.03 L533.51,205.60 L534.14,206.17 L534.77,206.73 L535.40,207.29 L536.03,207.85 L536.67,208.40 L537.30,208.95 L537.93,209.50 L538.56,210.04 L539.19,210.58 L539.82,211.12 L540.45,211.65 L541.08,212.18 L541.71,212.71 L542.34,213.23 L542.98,213.75 L543.61,214.27 L544.24,214.78 L544.87,215.28 L545.50,215.79 L546.13,216.29 L546.76,216.78 L547.39,217.28 L548.02,217.76 L548.65,218.25 L549.29,218.73 L549.92,219.20 L550.55,219.68 L551.18,220.14 L551.81,220.61 L552.44,221.06 L553.07,221.52 L553.70,221.97 L554.33,222.41 L554.96,222.85 L555.60,223.29 L556.23,223.72 L556.86,224.15 L557.49,224.57 L558.12,224.99 L558.75,225.40 L559.38,225.81 L560.01,226.21 L560.64,226.61 L561.27,227.01 L561.91,227.39 L562.54,227.78 L563.17,228.16 L563.80,228.53 L564.43,228.90 L565.06,229.26 L565.69,229.62 L566.32,229.97 L566.95,230.32 L567.58,230.66 L568.22,230.99 L568.85,231.32 L569.48,231.65 L570.11,231.97 L570.74,232.28 L571.37,232.59 L572.00,232.90 L572.63,233.19 L573.26,233.48 L573.89,233.77 L574.53,234.05 L575.16,234.32 L575.79,234.59 L576.42,234.85 L577.05,235.11 L577.68,235.36 L578.31,235.60 L578.94,235.84 L579.57,236.07 L580.20,236.30 L580.84,236.51 L581.47,236.73 L582.10,236.93 L582.73,237.13 L583.36,237.33 L583.99,237.51 L584.62,237.69 L585.25,237.87 L585.88,238.03 L586.51,238.19 L587.15,238.35 L587.78,238.50 L588.41,238.64 L589.04,238.77 L589.67,238.90 L590.30,239.01 L590.93,239.13 L591.56,239.23 L592.19,239.33 L592.82,239.42 L593.46,239.51 L594.09,239.58 L594.72,239.65 L595.35,239.72 L595.98,239.77 L596.61,239.82 L597.24,239.86 L597.87,239.89 L598.50,239.92 L599.13,239.93 L599.77,239.95 L600.40,239.95 L601.03,239.94 L601.66,239.93 L602.29,239.91 L602.92,239.88 L602.92,241.62 L602.29,241.58 L601.66,241.53 L601.03,241.49 L600.40,241.44 L599.77,241.39 L599.13,241.34 L598.50,241.28 L597.87,241.23 L597.24,241.17 L596.61,241.11 L595.98,241.05 L595.35,240.99 L594.72,240.92 L594.09,240.86 L593.46,240.79 L592.82,240.71 L592.19,240.64 L591.56,240.56 L590.93,240.48 L590.30,240.40 L589.67,240.32 L589.04,240.23 L588.41,240.14 L587.78,240.05 L587.15,239.95 L586.51,239.86 L585.88,239.76 L585.25,239.65 L584.62,239.55 L583.99,239.44 L583.36,239.33 L582.73,239.21 L582.10,239.09 L581.47,238.97 L580.84,238.84 L580.20,238.72 L579.57,238.58 L578.94,238.45 L578.31,238.31 L577.68,238.17 L577.05,238.02 L576.42,237.87 L575.79,237.72 L575.16,237.56 L574.53,237.40 L573.89,237.23 L573.26,237.07 L572.63,236.89 L572.00,236.72 L571.37,236.54 L570.74,236.35 L570.11,236.16 L569.48,235.97 L568.85,235.77 L568.22,235.57 L567.58,235.36 L566.95,235.15 L566.32,234.94 L565.69,234.72 L565.06,234.49 L564.43,234.26 L563.80,234.03 L563.17,233.79 L562.54,233.54 L561.91,233.30 L561.27,233.04 L560.64,232.78 L560.01,232.52 L559.38,232.25 L558.75,231.98 L558.12,231.70 L557.49,231.41 L556.86,231.12 L556.23,230.83 L555.60,230.53 L554.96,230.22 L554.33,229.91 L553.70,229.60 L553.07,229.27 L552.44,228.94 L551.81,228.61 L551.18,228.27 L550.55,227.92 L549.92,227.57 L549.29,227.22 L548.65,226.85 L548.02,226.48 L547.39,226.11 L546.76,225.72 L546.13,225.34 L545.50,224.94 L544.87,224.54 L544.24,224.13 L543.61,223.72 L542.98,223.30 L542.34,222.87 L541.71,222.44 L541.08,222.00 L540.45,221.55 L539.82,221.10 L539.19,220.64 L538.56,220.17 L537.93,219.70 L537.30,219.22 L536.67,218.73 L536.03,218.23 L535.40,217.73 L534.77,217.22 L534.14,216.71 L533.51,216.18 L532.88,215.65 L532.25,215.11 L531.62,214.57 L530.99,214.01 L530.36,213.45 L529.72,212.88 L529.09,212.30 L528.46,211.72 L527.83,211.13 L527.20,210.53Z" fill="#df2a1f" stroke="#df2a1f" stroke-width="0.5" stroke-linejoin="round"/>
<path d="M527.20,175.00 V242.50 H602.92" fill="none" stroke="#484848" stroke-width="1"/>
<path d="M527.20,242.50h2.6M527.20,236.88h1.6M527.20,231.25h2.6M527.20,225.62h1.6M527.20,220.00h2.6M527.20,214.38h1.6M527.20,208.75h2.6M527.20,203.12h1.6M527.20,197.50h2.6M527.20,191.88h1.6M527.20,186.25h2.6M527.20,180.62h1.6M527.20,175.00h2.6M527.20,242.50v-2.6M536.67,242.50v-1.6M546.13,242.50v-1.6M555.60,242.50v-1.6M565.06,242.50v-2.6M574.53,242.50v-1.6M583.99,242.50v-1.6M593.46,242.50v-1.6M602.92,242.50v-2.6" stroke="#484848" stroke-width="0.8" fill="none"/>
<text x="521.60" y="246.47" text-anchor="end" font-size="8.8" stroke="#111" stroke-width="0.25">0</text>
<text x="521.60" y="235.22" text-anchor="end" font-size="8.8" stroke="#111" stroke-width="0.25">0.02</text>
<text x="521.60" y="223.97" text-anchor="end" font-size="8.8" stroke="#111" stroke-width="0.25">0.04</text>
<text x="521.60" y="212.72" text-anchor="end" font-size="8.8" stroke="#111" stroke-width="0.25">0.06</text>
<text x="521.60" y="201.47" text-anchor="end" font-size="8.8" stroke="#111" stroke-width="0.25">0.08</text>
<text x="521.60" y="190.22" text-anchor="end" font-size="8.8" stroke="#111" stroke-width="0.25">0.1</text>
<text x="521.60" y="178.97" text-anchor="end" font-size="8.8" stroke="#111" stroke-width="0.25">0.12</text>
<text x="528.30" y="255.10" text-anchor="middle" font-size="8.8" stroke="#111" stroke-width="0.25">1.2</text>
<text x="566.16" y="255.10" text-anchor="middle" font-size="8.8" stroke="#111" stroke-width="0.25">1.4</text>
<text x="604.02" y="255.10" text-anchor="middle" font-size="8.8" stroke="#111" stroke-width="0.25">1.6</text>
<path d="M606.70,105.36 L607.28,105.96 L607.86,106.56 L608.45,107.15 L609.03,107.73 L609.61,108.31 L610.19,108.88 L610.77,109.45 L611.35,110.01 L611.94,110.57 L612.52,111.12 L613.10,111.67 L613.68,112.21 L614.26,112.74 L614.84,113.27 L615.43,113.79 L616.01,114.31 L616.59,114.82 L617.17,115.32 L617.75,115.82 L618.33,116.32 L618.92,116.81 L619.50,117.29 L620.08,117.77 L620.66,118.24 L621.24,118.71 L621.82,119.17 L622.41,119.63 L622.99,120.08 L623.57,120.53 L624.15,120.97 L624.73,121.40 L625.31,121.83 L625.90,122.26 L626.48,122.68 L627.06,123.09 L627.64,123.50 L628.22,123.91 L628.80,124.31 L629.39,124.70 L629.97,125.09 L630.55,125.47 L631.13,125.85 L631.71,126.23 L632.29,126.60 L632.88,126.96 L633.46,127.32 L634.04,127.67 L634.62,128.02 L635.20,128.37 L635.78,128.71 L636.37,129.04 L636.95,129.37 L637.53,129.70 L638.11,130.02 L638.69,130.33 L639.27,130.65 L639.86,130.95 L640.44,131.25 L641.02,131.55 L641.60,131.84 L642.18,132.13 L642.76,132.41 L643.35,132.69 L643.93,132.97 L644.51,133.24 L645.09,133.50 L645.67,133.76 L646.25,134.02 L646.84,134.27 L647.42,134.52 L648.00,134.76 L648.58,135.00 L649.16,135.23 L649.74,135.46 L650.33,135.69 L650.91,135.91 L651.49,136.13 L652.07,136.34 L652.65,136.55 L653.23,136.75 L653.82,136.95 L654.40,137.15 L654.98,137.34 L655.56,137.53 L656.14,137.71 L656.72,137.89 L657.31,138.06 L657.89,138.24 L658.47,138.40 L659.05,138.57 L659.63,138.73 L660.21,138.88 L660.80,139.03 L661.38,139.18 L661.96,139.32 L662.54,139.46 L663.12,139.60 L663.70,139.73 L664.29,139.86 L664.87,139.98 L665.45,140.11 L666.03,140.22 L666.61,140.34 L667.19,140.45 L667.78,140.55 L668.36,140.65 L668.94,140.75 L669.52,140.85 L670.10,140.94 L670.68,141.03 L671.27,141.11 L671.85,141.19 L672.43,141.27 L673.01,141.34 L673.59,141.41 L674.17,141.48 L674.76,141.54 L675.34,141.60 L675.92,141.66 L676.50,141.72 L676.50,144.38 L675.92,144.36 L675.34,144.34 L674.76,144.32 L674.17,144.30 L673.59,144.27 L673.01,144.24 L672.43,144.20 L671.85,144.16 L671.27,144.12 L670.68,144.08 L670.10,144.03 L669.52,143.98 L668.94,143.92 L668.36,143.86 L667.78,143.80 L667.19,143.73 L666.61,143.66 L666.03,143.58 L665.45,143.51 L664.87,143.42 L664.29,143.34 L663.70,143.25 L663.12,143.16 L662.54,143.06 L661.96,142.96 L661.38,142.85 L660.80,142.75 L660.21,142.63 L659.63,142.52 L659.05,142.40 L658.47,142.27 L657.89,142.15 L657.31,142.01 L656.72,141.88 L656.14,141.74 L655.56,141.59 L654.98,141.44 L654.40,141.29 L653.82,141.13 L653.23,140.97 L652.65,140.81 L652.07,140.64 L651.49,140.47 L650.91,140.29 L650.33,140.11 L649.74,139.92 L649.16,139.73 L648.58,139.53 L648.00,139.34 L647.42,139.13 L646.84,138.92 L646.25,138.71 L645.67,138.49 L645.09,138.27 L644.51,138.05 L643.93,137.82 L643.35,137.58 L642.76,137.34 L642.18,137.10 L641.60,136.85 L641.02,136.59 L640.44,136.34 L639.86,136.07 L639.27,135.81 L638.69,135.53 L638.11,135.26 L637.53,134.97 L636.95,134.69 L636.37,134.40 L635.78,134.10 L635.20,133.80 L634.62,133.49 L634.04,133.18 L633.46,132.87 L632.88,132.55 L632.29,132.22 L631.71,131.89 L631.13,131.55 L630.55,131.21 L629.97,130.87 L629.39,130.52 L628.80,130.16 L628.22,129.80 L627.64,129.43 L627.06,129.06 L626.48,128.69 L625.90,128.30 L625.31,127.92 L624.73,127.52 L624.15,127.13 L623.57,126.72 L622.99,126.32 L622.41,125.90 L621.82,125.48 L621.24,125.06 L620.66,124.63 L620.08,124.19 L619.50,123.75 L618.92,123.31 L618.33,122.86 L617.75,122.40 L617.17,121.94 L616.59,121.47 L616.01,120.99 L615.43,120.51 L614.84,120.03 L614.26,119.54 L613.68,119.04 L613.10,118.54 L612.52,118.03 L611.94,117.52 L611.35,117.00 L610.77,116.47 L610.19,115.94 L609.61,115.41 L609.03,114.86 L608.45,114.32 L607.86,113.76 L607.28,113.20 L606.70,112.63Z" fill="#df2a1f" stroke="#df2a1f" stroke-width="0.5" stroke-linejoin="round"/>
<path d="M606.70,84.20 V146.00 H676.50" fill="none" stroke="#484848" stroke-width="1"/>
<path d="M606.70,146.00h2.6M606.70,140.85h1.6M606.70,135.70h2.6M606.70,130.55h1.6M606.70,125.40h2.6M606.70,120.25h1.6M606.70,115.10h2.6M606.70,109.95h1.6M606.70,104.80h2.6M606.70,99.65h1.6M606.70,94.50h2.6M606.70,89.35h1.6M606.70,84.20h2.6M606.70,146.00v-2.6M615.43,146.00v-1.6M624.15,146.00v-1.6M632.88,146.00v-1.6M641.60,146.00v-2.6M650.33,146.00v-1.6M659.05,146.00v-1.6M667.78,146.00v-1.6M676.50,146.00v-2.6" stroke="#484848" stroke-width="0.8" fill="none"/>
<text x="601.70" y="149.82" text-anchor="end" font-size="8.4" stroke="#111" stroke-width="0.25">0</text>
<text x="601.70" y="139.52" text-anchor="end" font-size="8.4" stroke="#111" stroke-width="0.25">0.02</text>
<text x="601.70" y="129.22" text-anchor="end" font-size="8.4" stroke="#111" stroke-width="0.25">0.04</text>
<text x="601.70" y="118.92" text-anchor="end" font-size="8.4" stroke="#111" stroke-width="0.25">0.06</text>
<text x="601.70" y="108.62" text-anchor="end" font-size="8.4" stroke="#111" stroke-width="0.25">0.08</text>
<text x="601.70" y="98.32" text-anchor="end" font-size="8.4" stroke="#111" stroke-width="0.25">0.1</text>
<text x="601.70" y="88.02" text-anchor="end" font-size="8.4" stroke="#111" stroke-width="0.25">0.12</text>
<text x="607.80" y="158.00" text-anchor="middle" font-size="8.4" stroke="#111" stroke-width="0.25">1.2</text>
<text x="642.70" y="158.00" text-anchor="middle" font-size="8.4" stroke="#111" stroke-width="0.25">1.4</text>
<text x="677.60" y="158.00" text-anchor="middle" font-size="8.4" stroke="#111" stroke-width="0.25">1.6</text>
<line x1="56.13" y1="152.84" x2="197.97" y2="52.86" stroke="#237a2d" stroke-width="1.25"/>
<polygon points="205.0,47.9 199.40,56.62 198.79,52.28 194.91,50.24" fill="#237a2d"/>
<polygon points="49.1,157.8 59.19,155.46 55.31,153.42 54.70,149.08" fill="#237a2d"/>
<line x1="174.07" y1="120.22" x2="305.63" y2="20.98" stroke="#237a2d" stroke-width="1.25"/>
<polygon points="312.5,15.8 307.18,24.69 306.43,20.38 302.49,18.47" fill="#237a2d"/>
<polygon points="167.2,125.4 177.21,122.73 173.27,120.82 172.52,116.51" fill="#237a2d"/>
<text transform="matrix(0.6432 -0.4588 0.0958 0.9954 70.5 135.4)" font-size="16.6" fill="#237a2d">stage-II, <tspan dx="3">∫</tspan> Ldt = 10 fb<tspan font-size="12" dx="-2.0" dy="-5.8">-1</tspan></text>
<text transform="matrix(0.6246 -0.4571 0.0958 0.9954 185.98 102.8)" font-size="16.6" fill="#237a2d">stage-I, <tspan dx="3">∫</tspan> Ldt = 10 fb<tspan font-size="12" dx="-2.0" dy="-5.8">-1</tspan></text>
<text x="388.0" y="39.7" font-size="18.8" fill="#000" stroke="#000" stroke-width="0.35">x<tspan font-size="12.5" dx="0.2" dy="4" stroke-width="0.2">V</tspan></text>
<text transform="translate(12.8,268.7) rotate(-90)" font-size="17.45">Distribution of gluons</text>
<text x="192" y="398" font-size="16">b<tspan font-size="11" dx="0.6" dy="4.2">T</tspan><tspan dy="-4.2" dx="0.8" font-size="16.6"> (fm)</tspan></text>
<g fill="#111"><text x="498.3" y="10.2" font-size="13.4">e</text><text x="509.6" y="10.2" font-size="13.4">+</text><text x="521.9" y="10.2" font-size="13.4">p</text><text x="551.3" y="10.2" font-size="13.4">e</text><text x="563.1" y="10.2" font-size="13.4">+</text><text x="574.6" y="10.2" font-size="13.4">p</text><text x="586.3" y="10.2" font-size="13.4">+</text><text x="598.2" y="10.2" font-size="13.4">J/ψ</text><text x="498.5" y="33.3" font-size="13.4">15.8</text><text x="529.0" y="33.3" font-size="13">&lt;</text><text x="541.6" y="33.3" font-size="13">Q</text><text x="551.6" y="28.6" font-size="10">2</text><text x="561.8" y="33.3" font-size="13">+</text><text x="573.8" y="33.3" font-size="13">M</text><text x="586.0" y="28.6" font-size="10">2</text><text x="586.0" y="36.4" font-size="9.6">J/ψ</text><text x="606.2" y="33.3" font-size="13">&lt;</text><text x="617.0" y="33.3" font-size="13.4">25.1</text><text x="648.5" y="33.3" font-size="13.4">GeV</text><text x="676.4" y="28.4" font-size="10">2</text></g>
<path d="M534.1,6.9 H545.6" stroke="#333" stroke-width="0.9" fill="none"/>
<path d="M542.7,3.6 Q543.6,6.2 546.2,6.9 Q543.6,7.6 542.7,10.2" stroke="#111" stroke-width="0.9" fill="none"/>
</svg>
</body></html>
